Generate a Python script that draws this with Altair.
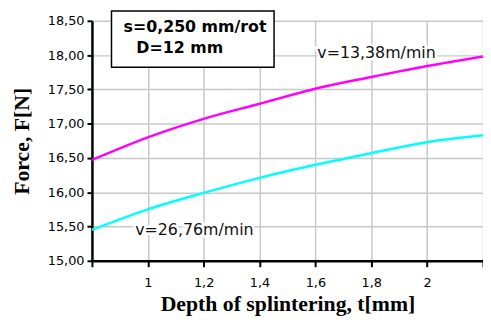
import altair as alt
import pandas as pd

t_vals = [0.8, 1.0, 1.2, 1.4, 1.6, 1.8, 2.0, 2.2]
f_v1338 = [16.47, 16.80, 17.07, 17.29, 17.51, 17.68, 17.84, 17.98]
f_v2676 = [15.45, 15.75, 15.99, 16.21, 16.40, 16.57, 16.73, 16.83]
series_names = ["v=13,38m/min", "v=26,76m/min"]
series_colors = ["#FF00FF", "#00FFFF"]

box_text = ["s=0,250 mm/rot", "D=12 mm"]
box_text_t = [0.913, 0.959]
box_text_f = [18.414, 18.097]
box_t = [0.870, 1.452]
box_f = [17.823, 18.644]

label_t = [1.607, 0.955]
label_f = [18.025, 15.447]

rows = []
for name, vals in zip(series_names, [f_v1338, f_v2676]):
    for t, f in zip(t_vals, vals):
        rows.append({"t": t, "F": f, "series": name})
df = pd.DataFrame(rows)

xscale = alt.Scale(domain=[0.8, 2.2], nice=False, zero=False)
yscale = alt.Scale(domain=[15.0, 18.5], nice=False, zero=False)

x_axis = alt.Axis(
    title="Depth of splintering, t[mm]",
    values=[0.8, 1.0, 1.2, 1.4, 1.6, 1.8, 2.0, 2.2],
    labelExpr="(datum.value < 0.9 || datum.value > 2.1) ? '' : replace(format(datum.value, '.1~f'), '.', ',')",
    labelFont="DejaVu Sans", labelFontSize=13, labelColor="#000000", labelPadding=10,
    titleFont="Liberation Serif", titleFontSize=22, titleFontWeight="bold", titleColor="#000000",
    titlePadding=4,
    domainColor="#000000", domainWidth=2.5, tickColor="#000000", tickWidth=2, tickSize=6,
    gridColor="#C8C8C8", gridWidth=1.5,
)
y_axis = alt.Axis(
    title="Force, F[N]",
    values=[15.0, 15.5, 16.0, 16.5, 17.0, 17.5, 18.0, 18.5],
    labelExpr="replace(format(datum.value, '.2f'), '.', ',')",
    labelFont="DejaVu Sans", labelFontSize=13, labelColor="#000000", labelPadding=3,
    titleFont="Liberation Serif", titleFontSize=22, titleFontWeight="bold", titleColor="#000000",
    titlePadding=14,
    domainColor="#000000", domainWidth=2.5, tickColor="#000000", tickWidth=2, tickSize=5,
    gridColor="#C8C8C8", gridWidth=1.5,
)

X = alt.X("t:Q", scale=xscale, axis=x_axis)
Y = alt.Y("F:Q", scale=yscale, axis=y_axis)

lines = alt.Chart(df).mark_line(strokeWidth=2.5, interpolate="monotone").encode(
    x=X, y=Y,
    color=alt.Color("series:N", scale=alt.Scale(domain=series_names, range=series_colors), legend=None),
)

box_df = pd.DataFrame({"t": [box_t[0]], "t2": [box_t[1]], "F": [box_f[0]], "F2": [box_f[1]]})
box = alt.Chart(box_df).mark_rect(fill="white", stroke="black", strokeWidth=1.5, clip=False).encode(
    x=X, x2="t2:Q", y=Y, y2="F2:Q"
)

btxt_df = pd.DataFrame({"t": box_text_t, "F": box_text_f, "txt": box_text})
btxt = alt.Chart(btxt_df).mark_text(
    align="left", baseline="middle", font="DejaVu Sans", fontSize=16, fontWeight="bold", color="black"
).encode(x=X, y=Y, text="txt:N")

lab_df = pd.DataFrame({"t": label_t, "F": label_f, "txt": series_names})
lab_bg = alt.Chart(lab_df).mark_text(
    align="left", baseline="middle", font="DejaVu Sans", fontSize=16, color="white",
    stroke="white", strokeWidth=5
).encode(x=X, y=Y, text="txt:N")
lab = alt.Chart(lab_df).mark_text(
    align="left", baseline="middle", font="DejaVu Sans", fontSize=16, color="#111111"
).encode(x=X, y=Y, text="txt:N")

chart = alt.layer(lines, lab_bg, lab, box, btxt).properties(
    width=396, height=243,
    autosize=alt.AutoSizeParams(type="none"),
    padding={"left": 85, "top": 11, "right": 0, "bottom": 60},
    background="white",
).configure_view(stroke=None)

chart.save("out.html", embed_options={"renderer": "svg", "actions": False})
